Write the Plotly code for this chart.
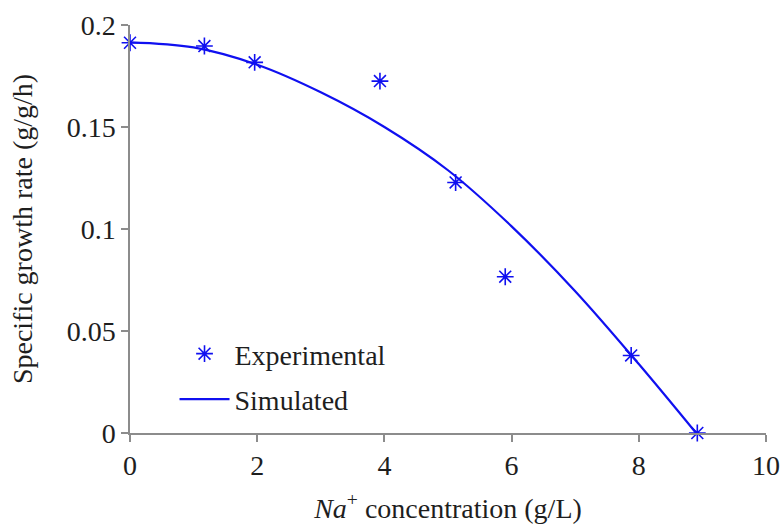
import plotly.graph_objects as go

# Measured specific growth rate at each Na+ level
exp_na = [0.0, 1.17, 1.96, 3.93, 5.12, 5.90, 7.88, 8.92]
exp_mu = [0.1913, 0.1897, 0.1817, 0.1725, 0.1228, 0.0766, 0.038, 0.0]

# Model prediction
sim_na = [0.0, 1.0, 2.0, 3.0, 4.0, 5.0, 6.0, 7.0, 8.0, 8.9]
sim_mu = [0.1915, 0.189, 0.1805, 0.167, 0.150, 0.1288, 0.1013, 0.0695, 0.0338, 0.0]

x_ticks = [0, 2, 4, 6, 8, 10]
y_ticks = [0, 0.05, 0.1, 0.15, 0.2]
y_tick_text = ["0", "0.05", "0.1", "0.15", "0.2"]

blue = "#1010f0"
serif = "Liberation Serif"

fig = go.Figure()
fig.add_trace(go.Scatter(
    x=exp_na, y=exp_mu, mode="markers", name="Experimental",
    legendgroup="exp",
    marker=dict(symbol="asterisk-open", size=14, color=blue,
                line=dict(color=blue, width=1.6)),
    cliponaxis=False,
))
fig.add_trace(go.Scatter(
    x=sim_na, y=sim_mu, mode="lines", name="Simulated",
    legendgroup="sim",
    line=dict(color=blue, width=2.2, shape="spline", smoothing=1.0),
    cliponaxis=False,
))

axis_font = dict(family=serif, size=28, color="#1e1e1e")

fig.update_layout(
    width=783, height=524,
    margin=dict(l=129.5, r=16.5, t=25, b=91),
    paper_bgcolor="white", plot_bgcolor="white",
    font=axis_font,
    showlegend=True,
    legend=dict(x=0.07, y=0.255, xanchor="left", yanchor="top",
                bgcolor="rgba(0,0,0,0)", font=axis_font,
                itemwidth=50, traceorder="grouped", tracegroupgap=6),
    xaxis=dict(range=[0, 10], tickvals=x_ticks, showgrid=False, zeroline=False,
               automargin=False,
               showline=True, linecolor="#8c8c8c", linewidth=1.5,
               ticks="outside", ticklen=7, tickcolor="#8c8c8c", tickwidth=1.5,
               tickfont=axis_font,
               title=dict(text="<i>Na</i><sup>+</sup> concentration (g/L)",
                          font=axis_font, standoff=18)),
    yaxis=dict(range=[0, 0.2], tickvals=y_ticks, ticktext=y_tick_text,
               showgrid=False, zeroline=False, automargin=False,
               showline=True, linecolor="#8c8c8c", linewidth=1.5,
               ticks="outside", ticklen=7, tickcolor="#8c8c8c", tickwidth=1.5,
               tickfont=axis_font,
               title=dict(text="Specific growth rate (g/g/h)",
                          font=axis_font, standoff=26)),
)

fig.write_html("out.html")
